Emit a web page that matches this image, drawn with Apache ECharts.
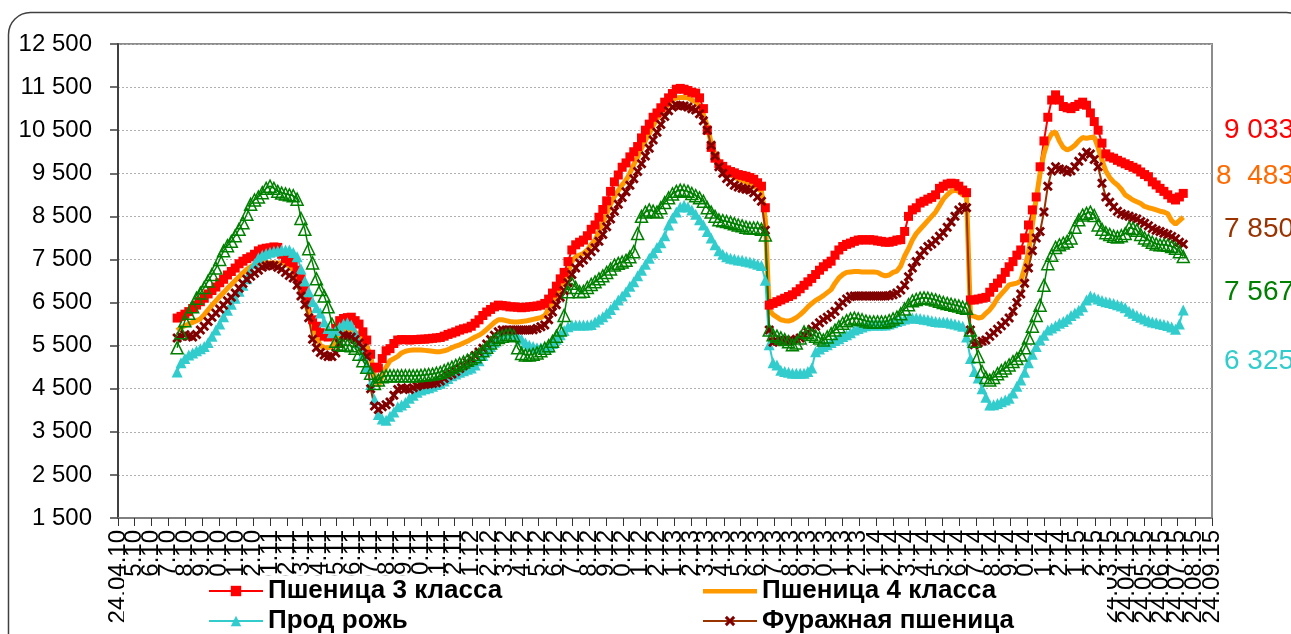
<!DOCTYPE html>
<html><head><meta charset="utf-8">
<script src="https://cdn.jsdelivr.net/npm/echarts@6/dist/echarts.min.js"></script>
<style>html,body{margin:0;padding:0;background:#fff}#c{width:1291px;height:634px}</style>
</head><body><div id="c"></div>
<script>
// ---- axis / category definitions ----
const axisStart = '2010-04-24';      // first x tick
const axisEnd = '2015-09-24';        // last x tick
const firstWeek = '2010-08-09';      // date of first weekly observation (weekly series)
const yMin = 1500, yMax = 12500, yStep = 1000;

const names = ['Пшеница 3 класса', 'Пшеница 4 класса', 'Прод рожь', 'Фуражная пшеница', 'Фуражный ячмень'];
const endLabels = ['9 033', '8  483', '7 850', '7 567', '6 325'];

// ---- weekly values ----
const wheat3 = [
6140,6180,6230,6290,6360,6440,6520,6600,6700,6780,
6860,6960,7040,7140,7220,7300,7400,7460,7520,7560,
7620,7700,7740,7760,7770,7790,7780,7620,7520,7450,
7420,7250,7050,6800,6520,6100,5950,5800,5720,5700,
5740,5900,6080,6130,6150,6160,6080,6000,5820,5630,
5300,5000,4980,5200,5380,5430,5550,5630,5640,5640,
5630,5640,5640,5650,5650,5660,5670,5680,5690,5720,
5760,5790,5820,5860,5890,5910,5950,6020,6100,6200,
6280,6340,6400,6440,6430,6420,6400,6400,6390,6380,
6390,6400,6410,6420,6440,6480,6580,6720,6880,7050,
7200,7450,7720,7840,7900,7950,8050,8200,8300,8480,
8660,8860,9080,9300,9460,9640,9740,9880,10000,10120,
10320,10500,10640,10800,10900,11020,11150,11250,11350,11450,
11470,11450,11420,11380,11360,11250,11000,10500,10100,9850,
9720,9660,9580,9540,9510,9470,9450,9430,9400,9360,
9280,9200,8700,6440,6480,6520,6560,6600,6640,6680,
6750,6820,6900,6980,7060,7150,7250,7330,7400,7460,
7600,7720,7800,7850,7880,7920,7950,7960,7950,7960,
7950,7930,7920,7900,7900,7920,7950,7960,8150,8500,
8650,8700,8810,8850,8900,8940,9000,9150,9200,9250,
9270,9260,9200,9110,9050,6560,6560,6580,6600,6620,
6740,6850,6950,7050,7200,7330,7450,7600,7720,8000,
8300,8650,8950,9650,10250,10800,11200,11320,11200,11050,
11020,11000,11050,11100,11150,11080,10900,10700,10500,10200,
9950,9880,9850,9800,9760,9720,9680,9640,9600,9530,
9470,9420,9300,9230,9150,9080,9000,8920,8880,8950,
9033];

const wheat4 = [
5850,5920,5960,6000,6040,6080,6120,6220,6330,6440,
6540,6640,6730,6830,6920,7010,7100,7190,7270,7330,
7380,7430,7440,7430,7420,7420,7420,7420,7400,7340,
7250,7060,6850,6550,6250,5950,5700,5500,5460,5450,
5480,5600,5760,5820,5850,5860,5820,5740,5640,5480,
5250,4800,4560,4800,5000,5150,5200,5250,5330,5370,
5390,5400,5400,5400,5390,5380,5370,5360,5360,5380,
5410,5450,5490,5520,5560,5600,5650,5700,5740,5800,
5880,5960,6040,6100,6100,6080,6060,6050,6050,6060,
6070,6090,6110,6130,6150,6200,6350,6500,6680,6850,
7000,7200,7450,7560,7600,7640,7720,7850,7950,8150,
8350,8560,8780,8960,9100,9230,9340,9500,9700,9880,
10080,10260,10420,10600,10760,10900,11000,11100,11200,11250,
11260,11260,11250,11200,11160,11050,10850,10600,10200,9950,
9780,9680,9560,9470,9420,9360,9330,9300,9250,9200,
9150,9080,8420,6330,6220,6160,6100,6080,6070,6100,
6150,6220,6300,6400,6480,6550,6600,6660,6730,6800,
6950,7070,7150,7200,7210,7220,7220,7210,7210,7210,
7210,7200,7150,7120,7140,7200,7230,7350,7580,7750,
7950,8100,8200,8300,8400,8500,8600,8750,8900,9000,
9080,9110,9080,9000,8960,6210,6180,6140,6160,6250,
6330,6450,6600,6700,6800,6910,6930,6950,7000,7300,
7650,8300,8900,9500,9950,10250,10420,10460,10250,10100,
10040,10080,10150,10250,10330,10310,10330,10340,10100,9800,
9550,9400,9300,9230,9130,9000,8940,8880,8840,8800,
8730,8700,8680,8650,8620,8600,8560,8400,8320,8400,
8483];

const rye = [
4890,5100,5200,5280,5330,5380,5430,5480,5570,5720,
5860,6000,6170,6320,6460,6600,6760,6900,7050,7250,
7400,7540,7600,7640,7670,7690,7700,7720,7720,7720,
7660,7560,7280,7000,6750,6520,6380,6260,6050,5900,
5800,5850,5930,6000,6030,5980,5800,5560,5280,5000,
4600,4250,3900,3800,3770,3860,3960,4080,4120,4180,
4280,4350,4420,4470,4500,4520,4560,4600,4630,4680,
4740,4800,4840,4880,4920,4950,4980,5050,5150,5270,
5380,5480,5580,5680,5740,5780,5790,5770,5720,5650,
5560,5510,5480,5450,5450,5450,5460,5550,5650,5750,
5850,5940,5980,5980,5980,5980,5980,5990,6050,6110,
6170,6250,6340,6450,6560,6650,6750,6880,6980,7120,
7250,7390,7530,7650,7780,7890,8050,8300,8460,8600,
8720,8760,8720,8650,8550,8420,8300,8150,8000,7840,
7700,7620,7560,7530,7510,7490,7480,7460,7440,7420,
7390,7360,7020,5520,5100,5050,4930,4900,4880,4860,
4860,4860,4860,4900,4980,5360,5420,5480,5520,5570,
5620,5660,5710,5750,5800,5860,5900,5930,5960,5980,
5980,5980,5980,5980,6000,6030,6060,6090,6120,6140,
6140,6140,6130,6110,6100,6080,6060,6050,6050,6040,
6020,6000,5980,5950,5700,5200,4900,4750,4500,4300,
4120,4130,4160,4200,4240,4280,4400,4560,4700,4880,
5100,5300,5480,5630,5740,5860,5910,5960,6020,6060,
6120,6200,6260,6320,6400,6560,6650,6620,6580,6550,
6520,6500,6480,6450,6420,6380,6300,6250,6200,6160,
6120,6080,6050,6030,6010,5990,5970,5930,5880,6000,
6325];

const feedWheat = [
5680,5720,5750,5720,5700,5760,5860,5950,6060,6160,
6260,6350,6440,6540,6620,6720,6830,6940,7040,7110,
7180,7250,7320,7350,7370,7360,7320,7270,7200,7130,
7070,6900,6650,6450,6150,5650,5450,5340,5280,5250,
5250,5330,5550,5740,5720,5700,5640,5560,5450,5250,
4500,4100,4020,4080,4130,4190,4350,4480,4520,4500,
4480,4520,4560,4590,4600,4610,4620,4640,4680,4740,
4800,4840,4900,4970,5040,5110,5190,5270,5350,5440,
5540,5640,5740,5820,5860,5860,5860,5860,5860,5860,
5860,5860,5870,5900,5940,5980,6100,6280,6450,6620,
6780,6960,7150,7300,7420,7490,7580,7680,7770,7920,
8080,8260,8440,8620,8780,8940,9070,9220,9370,9540,
9720,9900,10080,10270,10450,10630,10820,10950,11040,11080,
11070,11060,11040,11000,10970,10880,10720,10500,10150,9900,
9650,9500,9380,9300,9220,9180,9150,9130,9110,9050,
8950,8850,8180,5860,5580,5600,5630,5620,5610,5620,
5650,5680,5740,5810,5880,5950,6030,6100,6160,6220,
6300,6420,6500,6580,6640,6650,6650,6650,6650,6650,
6650,6650,6650,6650,6660,6680,6720,6790,6900,7100,
7300,7450,7600,7700,7800,7860,7940,8040,8120,8250,
8370,8500,8650,8720,8700,5860,5520,5560,5600,5630,
5720,5800,5880,5960,6050,6140,6300,6500,6700,6950,
7300,7700,8000,8150,8600,9200,9550,9650,9600,9580,
9530,9560,9650,9780,9880,9990,9950,9820,9650,9270,
8950,8830,8720,8620,8560,8530,8500,8470,8440,8380,
8340,8280,8220,8180,8150,8110,8080,8030,7980,7900,
7850];

const feedBarley = [
5450,5800,6080,6250,6400,6600,6720,6850,7000,7150,
7300,7500,7700,7820,7920,8050,8200,8350,8550,8780,
8880,8950,9050,9150,9200,9150,9080,9040,9020,9000,
8980,8900,8450,8200,7750,7420,7050,6800,6650,6400,
6000,5600,5530,5510,5510,5500,5440,5300,5150,5000,
4860,4620,4700,4780,4800,4800,4800,4800,4800,4800,
4800,4800,4800,4810,4820,4830,4840,4860,4880,4920,
4960,5000,5040,5080,5120,5160,5200,5240,5300,5380,
5460,5560,5640,5690,5720,5750,5760,5730,5450,5320,
5280,5280,5300,5330,5380,5440,5500,5600,5720,5860,
6200,6750,6950,6850,6750,6760,6850,6920,6980,7050,
7120,7200,7280,7370,7410,7440,7480,7560,7680,8100,
8500,8600,8650,8620,8600,8700,8820,8930,9020,9080,
9110,9100,9080,9030,8980,8930,8850,8700,8600,8500,
8420,8400,8380,8360,8330,8300,8280,8250,8230,8230,
8230,8200,8070,5860,5750,5720,5680,5640,5590,5520,
5560,5680,5820,5800,5760,5720,5680,5630,5700,5780,
5860,5940,6020,6080,6120,6140,6120,6100,6070,6050,
6050,6050,6050,6050,6080,6120,6160,6240,6350,6450,
6540,6570,6600,6610,6600,6580,6560,6530,6500,6480,
6460,6440,6420,6390,6370,5860,5600,5250,4900,4760,
4700,4760,4850,4920,4980,5050,5130,5200,5280,5450,
5680,5950,6200,6440,6900,7400,7600,7780,7840,7880,
7920,8000,8250,8420,8530,8570,8600,8520,8300,8200,
8120,8080,8040,8020,8050,8100,8240,8220,8180,8080,
8000,7950,7900,7860,7840,7840,7830,7800,7760,7680,
7567];

// ---- helpers ----
const DAY = 86400000;
function utc(iso){ const p = iso.split('-').map(Number); return Date.UTC(p[0], p[1]-1, p[2]); }
const t0 = utc(axisStart);
function dayOf(ms){ return Math.round((ms - t0) / DAY); }
function pad(n){ return (n < 10 ? '0' : '') + n; }

// monthly ticks on the 24th
const tickDays = [], tickLabels = [];
{
  const s = new Date(t0), e = utc(axisEnd);
  let y = s.getUTCFullYear(), m = s.getUTCMonth();
  while (true) {
    const ms = Date.UTC(y, m, 24);
    if (ms > e) break;
    tickDays.push(dayOf(ms));
    tickLabels.push('24.' + pad(m+1) + '.' + pad(y % 100));
    m++; if (m > 11) { m = 0; y++; }
  }
}
const labelByDay = {};
tickDays.forEach((d, i) => labelByDay[d] = tickLabels[i]);
// labels split over two overlaid axes so neighbouring rotated labels are never auto-hidden
const evenDays = tickDays.filter((d, i) => i % 2 === 0);
const oddDays = tickDays.filter((d, i) => i % 2 === 1);

const w0 = dayOf(utc(firstWeek));
function toXY(arr){ return arr.map((v, i) => [w0 + 7*i, v]); }

const fmtY = v => { const s = String(v); return s.length > 3 ? s.slice(0, s.length-3) + ' ' + s.slice(-3) : s; };

const xMark = 'path://M2,0 L5,3 L8,0 L10,2 L7,5 L10,8 L8,10 L5,7 L2,10 L0,8 L3,5 L0,2 Z';
// thick bar icon (degenerate end points keep the full icon box)
const thickLine = 'path://M0,0 L0,0 M0,4.5 L54,4.5 L54,9 L0,9 Z M54,13 L54,13';

const chart = echarts.init(document.getElementById('c'), null, {renderer: 'canvas'});
const legendText = {fontSize: 26, fontWeight: 'bold', color: '#000', fontFamily: 'Liberation Sans, Arial, sans-serif'};
const xLabelBase = {
  show: true, rotate: 90, margin: 12, showMinLabel: true, showMaxLabel: true, hideOverlap: false,
  fontFamily: 'Liberation Sans, Arial, sans-serif', fontSize: 24, color: '#000',
  formatter: v => labelByDay[v] || ''
};
const xMax = dayOf(utc(axisEnd));

chart.setOption({
  animation: false,
  backgroundColor: '#fff',
  textStyle: {fontFamily: 'Liberation Sans, Arial, sans-serif'},
  grid: {left: 118, right: 79, top: 44, bottom: 116, show: true, borderColor: '#8c8c8c', borderWidth: 2, outerBoundsMode: 'none'},
  xAxis: [
    {
      type: 'value', min: 0, max: xMax, position: 'bottom', offset: 0,
      splitLine: {show: false},
      axisLine: {show: true, onZero: false, lineStyle: {color: '#808080', width: 2}},
      axisTick: {show: true, length: 8, customValues: tickDays, lineStyle: {color: '#333', width: 1}},
      axisLabel: Object.assign({customValues: evenDays}, xLabelBase)
    },
    {
      type: 'value', min: 0, max: xMax, position: 'bottom', offset: 0,
      splitLine: {show: false},
      axisLine: {show: false, onZero: false},
      axisTick: {show: false},
      axisLabel: Object.assign({customValues: oddDays}, xLabelBase)
    }
  ],
  yAxis: {
    type: 'value', min: yMin, max: yMax, interval: yStep,
    axisLine: {show: true, lineStyle: {color: '#404040', width: 2}},
    axisTick: {show: true, length: 8, lineStyle: {color: '#404040', width: 1.5}},
    axisLabel: {fontSize: 24, color: '#000', margin: 26, formatter: fmtY},
    splitLine: {show: true, lineStyle: {color: '#b0b0b0', width: 1, type: [2, 2]}}
  },
  legend: [
    {data: [names[0], names[2]], orient: 'vertical', left: 208, top: 578, padding: 0, itemGap: 4,
     itemWidth: 54, itemHeight: 13, textStyle: legendText, z: 20},
    {data: [{name: names[1], icon: thickLine}, names[3]], orient: 'vertical', left: 702, top: 578, padding: 0, itemGap: 4,
     itemWidth: 54, itemHeight: 13, textStyle: legendText, z: 20}
  ],
  graphic: [
    {type: 'rect', z: 15, silent: true, shape: {x: 124, y: 576, width: 983, height: 70}, style: {fill: '#fff'}},
    {type: 'rect', z: 1, silent: true, shape: {x: 8.5, y: 12.5, width: 1300, height: 700, r: 22}, style: {fill: 'none', stroke: '#404040', lineWidth: 1.5}},
    {type: 'text', z: 20, style: {text: endLabels[0], x: 1224, y: 130, fill: '#ff0000', font: '28px "Liberation Sans", Arial', verticalAlign: 'middle'}},
    {type: 'text', z: 20, style: {text: endLabels[1], x: 1216, y: 176, fill: '#ff6a00', font: '28px "Liberation Sans", Arial', verticalAlign: 'middle'}},
    {type: 'text', z: 20, style: {text: endLabels[2], x: 1224, y: 229, fill: '#993300', font: '28px "Liberation Sans", Arial', verticalAlign: 'middle'}},
    {type: 'text', z: 20, style: {text: endLabels[3], x: 1224, y: 292, fill: '#008000', font: '28px "Liberation Sans", Arial', verticalAlign: 'middle'}},
    {type: 'text', z: 20, style: {text: endLabels[4], x: 1224, y: 361, fill: '#33cccc', font: '28px "Liberation Sans", Arial', verticalAlign: 'middle'}}
  ],
  series: [
    {name: names[0], type: 'line', data: toXY(wheat3), symbol: 'rect', symbolSize: 9,
     lineStyle: {color: '#ff0000', width: 2}, itemStyle: {color: '#ff0000'}},
    {name: names[1], type: 'line', data: toXY(wheat4), symbol: 'none', showSymbol: false,
     lineStyle: {color: '#ff9900', width: 5}, itemStyle: {color: '#ff9900'}},
    {name: names[2], type: 'line', data: toXY(rye), symbol: 'triangle', symbolSize: 11,
     lineStyle: {color: '#33cccc', width: 2}, itemStyle: {color: '#33cccc'}},
    {name: names[3], type: 'line', data: toXY(feedWheat), symbol: xMark, symbolSize: 10,
     lineStyle: {color: '#993300', width: 2}, itemStyle: {color: '#800000'}},
    {name: names[4], type: 'line', data: toXY(feedBarley), symbol: 'triangle', symbolSize: 12,
     lineStyle: {color: '#008000', width: 1.5}, itemStyle: {color: 'rgba(0,0,0,0)', borderColor: '#008000', borderWidth: 1.5}}
  ]
});
</script></body></html>
